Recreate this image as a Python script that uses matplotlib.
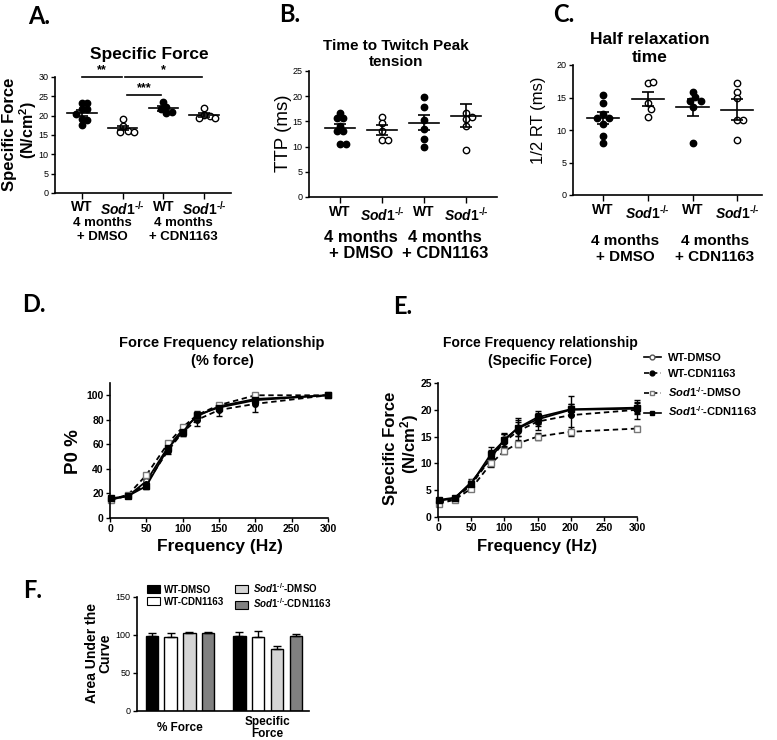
import numpy as np
import matplotlib
matplotlib.use("Agg")
import matplotlib.pyplot as plt
from matplotlib.lines import Line2D
from matplotlib.patches import Patch

plt.rcParams['font.family'] = ['Liberation Sans', 'DejaVu Sans']
plt.rcParams['mathtext.fontset'] = 'custom'
plt.rcParams['mathtext.rm'] = 'Liberation Sans:bold'
plt.rcParams['mathtext.it'] = 'Liberation Sans:italic:bold'
plt.rcParams['mathtext.bf'] = 'Liberation Sans:bold'

W, H = 777, 740
SOD = '$\\mathit{Sod1}^{\\mathit{\u2010/\u2010}}$'

# ---- datos A/B/C (puntos por grupo: WT-DMSO, Sod1-DMSO, WT-CDN, Sod1-CDN)
cat_labels = ['WT', SOD, 'WT', SOD]
group_labels = ['4 months\n+ DMSO', '4 months\n+ CDN1163']

sf_pts = [[23.2, 23.2, 21.6, 21.6, 20.4, 19.2, 18.8, 17.6],
          [19.1, 17.2, 16.0, 15.9, 15.9],
          [23.6, 22.2, 21.8, 21.0, 20.6],
          [21.9, 20.2, 19.8, 19.3, 19.3]]
sf_mean = [20.6, 16.8, 21.9, 20.1]
sf_sem = [0.8, 0.6, 0.6, 0.5]

ttp_pts = [[16.6, 15.6, 15.6, 14.1, 13.0, 13.0, 10.6, 10.6],
           [15.9, 14.7, 13.0, 11.4, 11.4],
           [19.9, 17.8, 15.3, 13.4, 11.6, 9.9],
           [16.6, 15.8, 15.4, 14.0, 9.3]]
ttp_mean = [13.6, 13.3, 14.7, 16.1]
ttp_sem = [0.8, 0.9, 1.5, 2.3]

rt_pts = [[15.4, 14.1, 12.5, 11.8, 11.8, 11.0, 9.1, 8.0],
          [17.2, 17.4, 14.1, 13.3, 12.0],
          [15.9, 15.1, 14.4, 14.4, 13.6, 8.0],
          [17.2, 15.9, 14.9, 11.5, 11.5, 8.5]]
rt_mean = [11.8, 14.8, 13.5, 13.1]
rt_sem = [0.9, 1.1, 1.3, 1.6]

# ---- datos D/E (fuerza-frecuencia)
freq = [1, 25, 50, 80, 100, 120, 150, 200, 300]
series_names = ['WT-DMSO', 'WT-CDN1163', SOD + '-DMSO', SOD + '-CDN1163']

pct_wt_dmso = [15, 18, 30, 58, 72, 83, 91, 97, 100]
pct_wt_cdn = [15, 18, 28, 55, 70, 80, 88, 93, 100]
pct_sod_dmso = [15, 19, 35, 61, 74, 84, 92, 100, 100]
pct_sod_cdn = [16, 18, 26, 57, 70, 84, 90, 96, 100]
pct_wt_dmso_err = [1, 1, 2, 2, 2, 2, 2, 2, 0]
pct_wt_cdn_err = [1, 1, 2, 3, 3, 5, 5, 7, 0]
pct_sod_dmso_err = [1, 1, 2, 2, 2, 2, 2, 1, 0]
pct_sod_cdn_err = [1, 1, 2, 2, 3, 3, 2, 2, 0]

spf_wt_dmso = [3.0, 3.5, 6.5, 11.0, 14.5, 16.5, 18.2, 20.0, 20.2]
spf_wt_cdn = [2.8, 3.3, 6.0, 11.0, 14.0, 16.0, 17.8, 19.0, 20.0]
spf_sod_dmso = [2.5, 3.2, 5.3, 10.0, 12.3, 13.7, 15.0, 15.9, 16.5]
spf_sod_cdn = [3.2, 3.6, 6.2, 11.8, 14.3, 16.6, 18.6, 20.1, 20.4]
spf_wt_dmso_err = [0.3, 0.3, 0.6, 1.0, 1.2, 1.3, 1.2, 1.0, 1.0]
spf_wt_cdn_err = [0.3, 0.3, 0.7, 1.5, 1.5, 2.5, 1.5, 3.5, 1.8]
spf_sod_dmso_err = [0.2, 0.2, 0.4, 0.6, 0.6, 0.6, 0.7, 0.8, 0.5]
spf_sod_cdn_err = [0.3, 0.3, 0.6, 1.2, 1.2, 1.5, 1.2, 1.0, 1.0]

# ---- datos F (AUC)
auc_labels = ['% Force', 'Specific\nForce']
auc_vals = [[99, 99], [98, 97], [102, 81], [103, 99]]
auc_err = [[3, 5], [4, 8], [2.5, 4], [1, 2]]
auc_colors = ['black', 'white', '#d4d4d4', '#808080']


def box(x0, y0, x1, y1):
    return [x0 / W, 1 - y1 / H, (x1 - x0) / W, (y1 - y0) / H]


def ftext(x, y, s, **kw):
    kw.setdefault('ha', 'center')
    kw.setdefault('va', 'center')
    fig.text(x / W, 1 - y / H, s, **kw)


def style_axes(ax, tsize, tweight='normal'):
    for s in ['top', 'right']:
        ax.spines[s].set_visible(False)
    for s in ['left', 'bottom']:
        ax.spines[s].set_linewidth(1.2)
    ax.tick_params(axis='both', length=3, width=1, labelsize=tsize, pad=1.5)
    for lab in ax.get_yticklabels():
        lab.set_fontweight(tweight)


def swarm(ax, xc, vals, d=5.6):
    # reparte los puntos para que no se solapen (estilo beeswarm)
    tr = ax.transData
    ypx = tr.transform(np.column_stack([np.zeros(len(vals)), vals]))[:, 1]
    xscale = tr.transform([[1, 0]])[0, 0] - tr.transform([[0, 0]])[0, 0]
    placed, out = [], []
    for y in ypx:
        best = None
        for k in range(30):
            for off in ([0.0] if k == 0 else [k * d / 2, -k * d / 2]):
                if all((off - px) ** 2 + (y - py) ** 2 >= d * d for px, py in placed):
                    best = off
                    break
            if best is not None:
                break
        placed.append((best, y))
        out.append(xc + best / xscale)
    return out


def dot_panel(rect, xlim, pts, means, sems, ymax, ystep, grp_dy, gsize, pad=2):
    ax = fig.add_axes(box(*rect))
    ax.set_xlim(*xlim)
    ax.set_ylim(0, ymax)
    ax.set_yticks(np.arange(0, ymax + 0.1, ystep))
    for i, vals in enumerate(pts):
        xs = swarm(ax, i, vals)
        filled = (i % 2 == 0)
        ax.plot(xs, vals, 'o', ms=4.6, mfc='black' if filled else 'white',
                mec='black', mew=1.0, ls='none', zorder=3)
        ax.plot([i - 0.36, i + 0.36], [means[i], means[i]], color='black', lw=1.2, zorder=4)
        ax.errorbar(i, means[i], yerr=sems[i], fmt='none', ecolor='black',
                    elinewidth=1.2, capsize=4, capthick=1.2, zorder=4)
    ax.set_xticks(range(4))
    ax.set_xticklabels(cat_labels, fontsize=10, fontweight='bold')
    style_axes(ax, 6.5)
    ax.tick_params(axis='x', labelsize=10, pad=pad, length=4)
    for j, g in enumerate(group_labels):
        l1, l2 = g.split('\n')
        for dy, s in zip(grp_dy, [l1, l2]):
            ax.annotate(s, xy=(2 * j + 0.5, 0), xycoords=('data', 'axes fraction'),
                        xytext=(0, -dy), textcoords='offset pixels',
                        ha='center', va='center', fontsize=gsize, fontweight='bold')
    return ax


fig = plt.figure(figsize=(W / 100, H / 100), dpi=100)

# ---------------- A
axA = dot_panel((55, 77, 231, 193), (-0.66, 3.66), sf_pts, sf_mean, sf_sem, 30, 5, (30, 44), 9.5, pad=1)
for x0, x1, y, s in [(0, 0.98, 30, '**'), (1.05, 2.95, 30, '*'), (1.1, 1.95, 25.3, '***')]:
    axA.plot([x0, x1], [y, y], color='black', lw=1.2, clip_on=False)
    axA.text((x0 + x1) / 2, y + 0.3, s, ha='center', va='bottom', fontsize=9, fontweight='bold')
ftext(149, 54, 'Specific Force', fontsize=12.5, fontweight='bold')
ftext(10, 134, 'Specific Force', fontsize=12, fontweight='bold', rotation=90)
ftext(28, 130, r'(N/cm$^2$)', fontsize=11.5, fontweight='bold', rotation=90)

# ---------------- B
axB = dot_panel((309, 71, 497, 197), (-0.74, 3.74), ttp_pts, ttp_mean, ttp_sem, 25, 5, (40, 57), 12)
ftext(396, 46, 'Time to Twitch Peak', fontsize=11, fontweight='bold')
ftext(396, 62, 'tension', fontsize=11, fontweight='bold')
ftext(283, 133, 'TTP (ms)', fontsize=13.5, rotation=90)

# ---------------- C
axC = dot_panel((573, 65, 762, 195), (-0.67, 3.55), rt_pts, rt_mean, rt_sem, 20, 5, (46, 62), 11)
ftext(650, 39, 'Half relaxation', fontsize=12.5, fontweight='bold')
ftext(650, 58, 'time', fontsize=12.5, fontweight='bold')
ftext(538, 120, '1/2 RT (ms)', fontsize=12, rotation=90)

# ---------------- D / E
styles = [dict(ls='-', marker='o', mfc='white', mec='#555555'),
          dict(ls=(0, (3, 2)), marker='o', mfc='black', mec='black'),
          dict(ls=(0, (3, 2)), marker='s', mfc='white', mec='#777777'),
          dict(ls='-', marker='s', mfc='black', mec='black')]


def ff_panel(rect, vals, errs, ymax, ytop, ystep):
    ax = fig.add_axes(box(*rect))
    for v, e, st in zip(vals, errs, styles):
        ax.errorbar(freq, v, yerr=e, color='black', ls=st['ls'], marker=st['marker'],
                    ms=4, mfc=st['mfc'], mec=st['mec'], mew=1, lw=1.3,
                    ecolor='black', elinewidth=1, capsize=2.5, clip_on=False)
    ax.set_xlim(0, 300)
    ax.set_ylim(0, ytop)
    ax.set_xticks(range(0, 301, 50))
    ax.set_yticks(np.arange(0, ymax + 0.1, ystep))
    style_axes(ax, 7.5, 'bold')
    for lab in ax.get_xticklabels():
        lab.set_fontweight('bold')
    return ax


axD = ff_panel((110, 383, 328, 518),
               [pct_wt_dmso, pct_wt_cdn, pct_sod_dmso, pct_sod_cdn],
               [pct_wt_dmso_err, pct_wt_cdn_err, pct_sod_dmso_err, pct_sod_cdn_err],
               100, 110, 20)
ftext(222, 343, 'Force Frequency relationship', fontsize=10.5, fontweight='bold')
ftext(222, 361, '(% force)', fontsize=10.5, fontweight='bold')
ftext(73, 452, 'P0 %', fontsize=13.5, fontweight='bold', rotation=90)
ftext(220, 547, 'Frequency (Hz)', fontsize=12.5, fontweight='bold')

axE = ff_panel((438, 383, 637, 517),
               [spf_wt_dmso, spf_wt_cdn, spf_sod_dmso, spf_sod_cdn],
               [spf_wt_dmso_err, spf_wt_cdn_err, spf_sod_dmso_err, spf_sod_cdn_err],
               25, 25, 5)
ftext(540, 343, 'Force Frequency relationship', fontsize=10, fontweight='bold')
ftext(540, 361, '(Specific Force)', fontsize=10, fontweight='bold')
ftext(390, 448, 'Specific Force', fontsize=12, fontweight='bold', rotation=90)
ftext(410, 444, r'(N/cm$^2$)', fontsize=12, fontweight='bold', rotation=90)
ftext(537, 547, 'Frequency (Hz)', fontsize=12, fontweight='bold')

handles = [Line2D([], [], color='black', ls=st['ls'], marker=st['marker'], ms=3.5,
                  mfc=st['mfc'], mec=st['mec'], lw=1.2) for st in styles]
fig.legend(handles, series_names, loc='upper left', bbox_to_anchor=(638 / W, 1 - 347 / H),
           frameon=False, prop={'size': 8, 'weight': 'bold'}, handlelength=1.6,
           handletextpad=0.6, labelspacing=0.55, borderpad=0)

# ---------------- F
axF = fig.add_axes(box(137, 597, 309, 711))
xg = np.arange(len(auc_labels))
for k in range(4):
    off = (k - 1.5) * 0.215
    axF.bar(xg + off, auc_vals[k], width=0.14, color=auc_colors[k], edgecolor='black', lw=1)
    axF.errorbar(xg + off, auc_vals[k], yerr=[np.zeros(2), auc_err[k]], fmt='none',
                 ecolor='black', elinewidth=1, capsize=3, capthick=1)
axF.set_xlim(-0.49, 1.47)
axF.set_ylim(0, 150)
axF.set_yticks([0, 50, 100, 150])
axF.set_xticks(xg)
axF.set_xticklabels([])
style_axes(axF, 6.5)
axF.tick_params(axis='x', length=0)
for xi, lab in zip(xg, auc_labels):
    axF.annotate(lab, xy=(xi, 0), xycoords=('data', 'axes fraction'), xytext=(0, -17),
                 textcoords='offset pixels', ha='center', va='center', fontsize=8.5,
                 fontweight='bold', linespacing=1.05)
ftext(99, 653, 'Area Under the\nCurve', fontsize=10, fontweight='bold', rotation=90,
      linespacing=0.95)
fig.legend([Patch(facecolor=c, edgecolor='black', lw=0.8) for c in auc_colors],
           ['WT-DMSO', 'WT-CDN1163', SOD + '-DMSO', SOD + '-CDN1163'],
           loc='upper left', bbox_to_anchor=(142 / W, 1 - 576 / H), ncol=2,
           frameon=False, prop={'size': 7, 'weight': 'bold'}, handlelength=1.3,
           handleheight=0.9, handletextpad=0.5, columnspacing=1.1, labelspacing=0.2,
           borderpad=0)

# ---------------- letras de panel
for x, y, s in [(39, 16, 'A.'), (290, 14, 'B.'), (564, 15, 'C.'),
                (34, 305, 'D.'), (403, 306, 'E.'), (33, 590, 'F.')]:
    ftext(x, y, s, fontsize=17, fontweight='bold', family='Lato')

fig.savefig('out.png', dpi=100)
